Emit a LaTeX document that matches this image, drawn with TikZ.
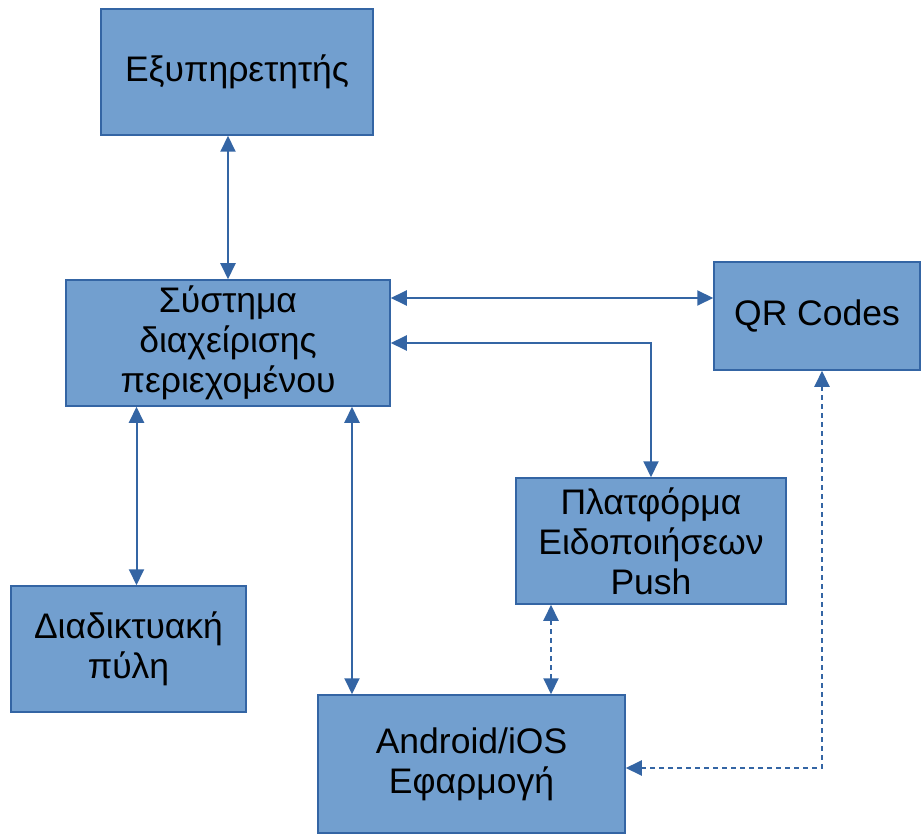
\documentclass[tikz,border=0pt]{standalone}
\usepackage{fontspec}
\setmainfont{Liberation Sans}
\usetikzlibrary{arrows.meta}
\usetikzlibrary{calc}
\definecolor{boxfill}{HTML}{729FCF}
\definecolor{boxline}{HTML}{3465A4}

\begin{document}
\begin{tikzpicture}[x=1pt,y=-1pt,
  box/.style={draw=boxline,fill=boxfill,line width=1.5pt,inner sep=0pt,align=center,font=\fontsize{35.5}{40}\selectfont},
  link/.style={draw=boxline,line width=2pt,{Triangle[length=16pt,width=15pt]}-{Triangle[length=16pt,width=15pt]}},
  dlink/.style={link,dash pattern=on 5pt off 4pt}]
  \useasboundingbox (0,0) rectangle (921,834);
  \node[box,minimum width=272,minimum height=126] (serv) at (237,72) {Εξυπηρετητής};
  \node[box,minimum width=324,minimum height=126] (cms) at (228,343) {Σύστημα\\διαχείρισης\\περιεχομένου};
  \node[box,minimum width=206,minimum height=108] (qr) at (817,316) {QR Codes};
  \node[box,minimum width=270,minimum height=126] (push) at (651,541) {Πλατφόρμα\\Ειδοποιήσεων\\Push};
  \node[box,minimum width=235,minimum height=126] (web) at (128.5,649) {Διαδικτυακή\\πύλη};
  \node[box,minimum width=307,minimum height=138] (app) at (471.5,764) {Android/iOS\\Εφαρμογή};

  \coordinate (cmsq) at ($(cms.east)+(0,-45)$);
  \coordinate (cw) at ($(web.north)+(8,0)$);
  \coordinate (ca) at ($(app.north)+(-119.5,0)$);
  \coordinate (pa) at ($(push.south)+(-100,0)$);
  \coordinate (qa) at ($(qr.south)+(5,0)$);
  \coordinate (aq) at ($(app.east)+(0,4)$);

  \draw[link] (serv.south -| cms.north) -- (cms.north);
  \draw[link] (cmsq) -- (cmsq -| qr.west);
  \draw[link] (cms.east) -| (push.north);
  \draw[link] (cw |- cms.south) -- (cw);
  \draw[link] (ca |- cms.south) -- (ca);
  \draw[dlink] (pa) -- (pa |- app.north);
  \draw[dlink] (qa) |- (aq);
\end{tikzpicture}
\end{document}
